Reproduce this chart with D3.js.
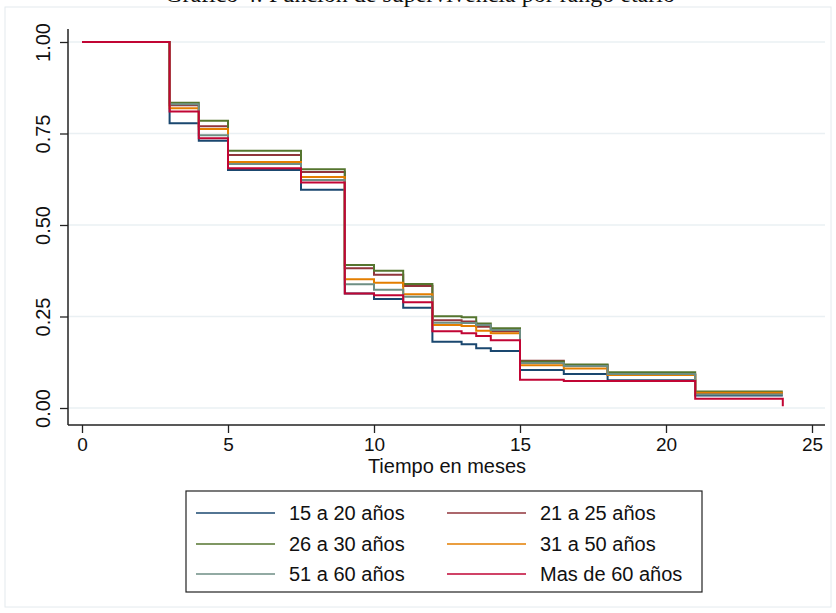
<!DOCTYPE html>
<html>
<head>
<meta charset="utf-8">
<script src="https://cdn.jsdelivr.net/npm/d3@7"></script>
<style>
html,body{margin:0;padding:0;background:#fff;}
svg{display:block;}
</style>
</head>
<body>
<svg id="chart" width="836" height="613"></svg>
<script>
const titleText = "Gráfico 4: Función de supervivencia por rango etario";
const xTitle = "Tiempo en meses";
const xTicks = [0, 5, 10, 15, 20, 25];
const yTicks = [0, 0.25, 0.5, 0.75, 1];
const times = [0, 3, 4, 5, 7.5, 9, 10, 11, 12, 13, 13.5, 14, 15, 16.5, 18, 21, 24];
const seriesNames = ["15 a 20 años", "21 a 25 años", "26 a 30 años", "31 a 50 años", "51 a 60 años", "Mas de 60 años"];
const s15a20 = [1, .778, .730, .650, .596, .313, .298, .274, .181, .174, .163, .156, .104, .093, .076, .034, .034];
const s21a25 = [1, .827, .770, .691, .645, .382, .364, .333, .240, .236, .222, .210, .129, .117, .091, .040, .040];
const s26a30 = [1, .834, .785, .703, .652, .391, .375, .339, .251, .248, .231, .218, .127, .119, .098, .045, .045];
const s31a50 = [1, .819, .762, .672, .631, .352, .342, .311, .227, .224, .211, .204, .117, .108, .090, .042, .042];
const s51a60 = [1, .830, .745, .667, .623, .338, .323, .304, .233, .232, .227, .213, .123, .115, .093, .037, .037];
const sMas60 = [1, .810, .737, .655, .616, .313, .308, .289, .210, .204, .197, .185, .077, .074, .074, .025, .005];
const seriesValues = [s15a20, s21a25, s26a30, s31a50, s51a60, sMas60];
const colors = ["#1a476f", "#90353b", "#55752f", "#e37e00", "#6e8e84", "#c10534"];

const svg = d3.select("#chart");
const font = "'Liberation Sans', Arial, Helvetica, sans-serif";

// outer frame
svg.append("rect").attr("x", 5).attr("y", 7).attr("width", 826).attr("height", 600)
  .attr("fill", "none").attr("stroke", "#e4eaee").attr("stroke-width", 1);

// title (mostly cropped at top, as in the reference)
svg.append("text").attr("x", 420).attr("y", 2).attr("text-anchor", "middle")
  .attr("font-family", "'Liberation Serif', 'Times New Roman', serif").attr("font-size", 24)
  .attr("fill", "#111").text(titleText);

const x = d3.scaleLinear().domain([0, 25]).range([82, 812]);
const y = d3.scaleLinear().domain([0, 1]).range([408, 42]);

const plotLeft = 68, plotRight = 825, plotTop = 29, plotBottom = 425;

// gridlines
svg.append("g").selectAll("line").data(yTicks).join("line")
  .attr("x1", plotLeft).attr("x2", plotRight)
  .attr("y1", d => y(d)).attr("y2", d => y(d))
  .attr("stroke", "#eaf0f3").attr("stroke-width", 1.5);

// y axis
const gy = svg.append("g").attr("transform", `translate(${plotLeft},0)`)
  .call(d3.axisLeft(y).tickValues(yTicks).tickFormat(d3.format(".2f")).tickSize(8).tickPadding(7));
gy.select(".domain").remove();
gy.selectAll(".tick line").attr("stroke", "#222").attr("stroke-width", 1.3);
gy.selectAll(".tick text")
  .attr("font-family", font).attr("font-size", 20).attr("fill", "#111")
  .attr("text-anchor", "middle")
  .attr("transform", "translate(-25,0) rotate(-90)")
  .attr("x", 0).attr("y", 0).attr("dy", "0.35em");
svg.append("line").attr("x1", plotLeft).attr("x2", plotLeft).attr("y1", plotTop).attr("y2", plotBottom)
  .attr("stroke", "#222").attr("stroke-width", 1.5);

// x axis
const gx = svg.append("g").attr("transform", `translate(0,${plotBottom})`)
  .call(d3.axisBottom(x).tickValues(xTicks).tickSize(8).tickPadding(5));
gx.select(".domain").remove();
gx.selectAll(".tick line").attr("stroke", "#222").attr("stroke-width", 1.3);
gx.selectAll(".tick text").attr("font-family", font).attr("font-size", 19).attr("fill", "#111");
svg.append("line").attr("x1", plotLeft).attr("x2", plotRight).attr("y1", plotBottom).attr("y2", plotBottom)
  .attr("stroke", "#222").attr("stroke-width", 1.5);

svg.append("text").attr("x", (x(0) + x(25)) / 2).attr("y", 473).attr("text-anchor", "middle")
  .attr("font-family", font).attr("font-size", 20).attr("fill", "#111").text(xTitle);

// lines
const line = d3.line().x(d => x(d[0])).y(d => y(d[1])).curve(d3.curveStepAfter);
seriesValues.forEach((vals, i) => {
  const pts = times.map((t, k) => [t, vals[k]]);
  svg.append("path").datum(pts).attr("d", line)
    .attr("fill", "none").attr("stroke", colors[i]).attr("stroke-width", 2)
    .attr("stroke-linejoin", "miter");
});

// legend
const lg = svg.append("g");
lg.append("rect").attr("x", 186).attr("y", 491).attr("width", 516).attr("height", 101)
  .attr("fill", "#fff").attr("stroke", "#222").attr("stroke-width", 1.2);
const colX = [196, 447];
const rowY = [513, 544, 574];
seriesNames.forEach((name, i) => {
  const cx = colX[i % 2], cy = rowY[Math.floor(i / 2)];
  lg.append("line").attr("x1", cx).attr("x2", cx + 79).attr("y1", cy).attr("y2", cy)
    .attr("stroke", colors[i]).attr("stroke-width", 1.6);
  lg.append("text").attr("x", cx + 93).attr("y", cy).attr("dy", "0.35em")
    .attr("font-family", font).attr("font-size", 20).attr("fill", "#111").text(name);
});
</script>
</body>
</html>
